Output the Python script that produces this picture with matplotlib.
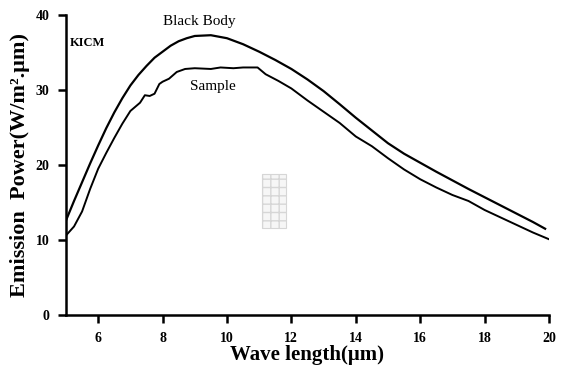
import matplotlib.pyplot as plt
from matplotlib.patches import Rectangle

# wave length (um) and emission power
bb_x = [5.0, 5.25, 5.5, 5.75, 6.0, 6.25, 6.5, 6.75, 7.0, 7.25, 7.5, 7.75,
        8.0, 8.25, 8.5, 8.75, 9.0, 9.5, 10.0, 10.5, 11.0, 11.5, 12.0, 12.5,
        13.0, 13.5, 14.0, 14.5, 15.0, 15.5, 16.0, 16.5, 17.0, 17.5, 18.0,
        18.5, 19.0, 19.5, 19.88]
bb_y = [12.6, 15.2, 17.7, 20.2, 22.6, 24.9, 27.0, 28.9, 30.6, 32.0, 33.2,
        34.3, 35.1, 35.9, 36.5, 36.9, 37.2, 37.3, 36.9, 36.1, 35.1, 34.0,
        32.8, 31.4, 29.85, 28.1, 26.3, 24.6, 22.9, 21.5, 20.3, 19.1, 17.95,
        16.8, 15.7, 14.6, 13.5, 12.4, 11.5]

sample_x = [5.0, 5.25, 5.5, 5.75, 6.0, 6.25, 6.5, 6.75, 7.0, 7.3, 7.45, 7.6,
            7.75, 7.9, 8.0, 8.2, 8.44, 8.7, 9.0, 9.5, 9.8, 10.2, 10.5,
            10.95, 11.2, 11.6, 12.0, 12.5, 13.0, 13.5, 14.0, 14.5, 15.0,
            15.5, 16.0, 16.5, 17.0, 17.5, 18.0, 18.5, 19.0, 19.5, 20.0]
sample_y = [10.6, 11.8, 13.8, 16.8, 19.5, 21.6, 23.6, 25.5, 27.2, 28.3, 29.3,
            29.2, 29.5, 30.8, 31.1, 31.5, 32.4, 32.8, 32.9, 32.8, 33.0, 32.9,
            33.0, 33.0, 32.1, 31.2, 30.2, 28.6, 27.1, 25.6, 23.8, 22.5, 20.9,
            19.4, 18.1, 17.0, 16.0, 15.2, 14.0, 13.0, 12.0, 11.0, 10.1]

x_ticks = [6, 8, 10, 12, 14, 16, 18, 20]
y_ticks = [0, 10, 20, 30, 40]

plt.rcParams["font.family"] = ["Liberation Serif", "DejaVu Serif"]

fig = plt.figure(figsize=(5.61, 3.65), dpi=100)
ax = fig.add_axes([0.1176, 0.137, 0.861, 0.822])

ax.plot(bb_x, bb_y, color="black", lw=1.6)
ax.plot(sample_x, sample_y, color="black", lw=1.4)

ax.set_xlim(5, 20)
ax.set_ylim(0, 40)
ax.set_xticks(x_ticks)
ax.set_yticks(y_ticks)

for side in ["top", "right"]:
    ax.spines[side].set_visible(False)
for side in ["left", "bottom"]:
    ax.spines[side].set_linewidth(1.8)

ax.tick_params(direction="out", length=6, width=1.8, labelsize=10, pad=6)
for lbl in ax.get_xticklabels() + ax.get_yticklabels():
    lbl.set_fontweight("bold")

ax.set_xlabel("Wave length(\u03bcm)", fontsize=15, fontweight="bold", labelpad=0)
ax.set_ylabel("Emission  Power(W/m\u00b2.\u03bcm)", fontsize=16,
              fontweight="bold", labelpad=4)

ax.text(9.15, 39.1, "Black Body", fontsize=11, ha="center", va="center")
ax.text(9.55, 30.4, "Sample", fontsize=11, ha="center", va="center")
ax.text(5.12, 36.3, "KICM", fontsize=9, fontweight="bold", ha="left", va="center")

# faint seal stamp in the middle
ax.add_patch(Rectangle((0.405, 0.29), 0.05, 0.18, transform=ax.transAxes,
                       facecolor="#f6f6f6", edgecolor="#d6d6d6", lw=0.8,
                       hatch="++"))

fig.savefig("out.png", dpi=100)
